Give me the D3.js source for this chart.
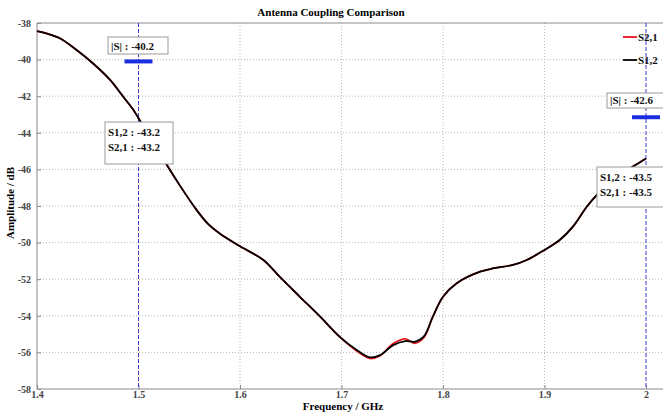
<!DOCTYPE html>
<html>
<head>
<meta charset="utf-8">
<script src="https://cdn.jsdelivr.net/npm/d3@7"></script>
<style>
  body { margin: 0; background: #fff; }
  text { font-family: "Liberation Serif", "DejaVu Serif", serif; font-weight: bold; }
</style>
</head>
<body>
<div class="chart"></div>
<script>
// data
const freq = [1.400, 1.410, 1.423, 1.439, 1.455, 1.472, 1.485, 1.495, 1.500, 1.514, 1.528, 1.541, 1.557, 1.568,
  1.580, 1.600, 1.623, 1.639, 1.659, 1.679, 1.698, 1.715, 1.728, 1.738, 1.751, 1.763, 1.772, 1.781, 1.790,
  1.800, 1.8135, 1.8365, 1.850, 1.869, 1.8825, 1.900, 1.915, 1.928, 1.9416, 1.9514, 1.965, 1.980, 1.990, 2.000];
const s12 = [-38.45, -38.58, -38.85, -39.48, -40.20, -41.11, -42.03, -42.75, -43.20, -44.45, -45.76, -46.90, -48.20, -48.95,
  -49.50, -50.20, -50.95, -51.86, -52.96, -54.05, -55.14, -55.87, -56.27, -56.15, -55.60, -55.38, -55.42, -55.14, -54.05,
  -52.96, -52.22, -51.59, -51.40, -51.22, -50.95, -50.40, -49.86, -49.13, -48.04, -47.40, -46.70, -46.10, -45.75, -45.40];
const s21 = [-38.45, -38.58, -38.85, -39.48, -40.20, -41.11, -42.03, -42.75, -43.20, -44.45, -45.76, -46.90, -48.20, -48.95,
  -49.50, -50.20, -50.95, -51.86, -52.96, -54.05, -55.14, -55.92, -56.33, -56.18, -55.52, -55.26, -55.50, -55.20, -54.05,
  -52.96, -52.22, -51.59, -51.40, -51.22, -50.95, -50.40, -49.86, -49.13, -48.04, -47.40, -46.70, -46.10, -45.75, -45.40];
const xTicks = [1.4, 1.5, 1.6, 1.7, 1.8, 1.9, 2.0];
const yTicks = [-38, -40, -42, -44, -46, -48, -50, -52, -54, -56, -58];
const markers = [
  { f: 1.5, mag: -40.1, magLabel: '|S| : -40.2', tip: ['S1,2 : -43.2', 'S2,1 : -43.2'] },
  { f: 2.0, mag: -43.15, magLabel: '|S| : -42.6', tip: ['S1,2 : -43.5', 'S2,1 : -43.5'] }
];
const series = [
  { name: 'S2,1', values: s21, color: '#e8161b' },
  { name: 'S1,2', values: s12, color: '#000' }
];

const W = 663, H = 412;
const pLeft = 37, pTop = 23, pBottom = 389, pRight = 663;

const svg = d3.select('.chart').append('svg')
  .attr('width', W).attr('height', H);

const x = d3.scaleLinear().domain([1.4, 2.0]).range([pLeft, 646]);
const y = d3.scaleLinear().domain([-58, -38]).range([pBottom, pTop]);

// grid
const grid = svg.append('g').attr('class', 'grid');
grid.selectAll('.hg').data(yTicks.slice(1, -1)).enter().append('line')
  .attr('x1', pLeft).attr('x2', pRight)
  .attr('y1', d => y(d)).attr('y2', d => y(d))
  .style('stroke', '#b8b8b8').style('stroke-dasharray', '1,2').style('stroke-width', 1);
grid.selectAll('.vg').data(xTicks.slice(1, -1)).enter().append('line')
  .attr('x1', d => x(d)).attr('x2', d => x(d))
  .attr('y1', pTop).attr('y2', pBottom)
  .style('stroke', '#b8b8b8').style('stroke-dasharray', '1,2').style('stroke-width', 1);

// frame
svg.append('path')
  .attr('d', `M${pRight},${pTop}H${pLeft}V${pBottom}H${pRight}`)
  .style('fill', 'none').style('stroke', '#8a8a8a').style('stroke-width', 1);

// axes
const yAxis = d3.axisLeft(y).tickValues(yTicks).tickFormat(d => d).tickSizeInner(-4).tickSizeOuter(0).tickPadding(6);
const yAxisDraw = svg.append('g').attr('transform', `translate(${pLeft},0)`).call(yAxis);
const xAxis = d3.axisBottom(x).tickValues(xTicks).tickFormat(d => d3.format('')(d)).tickSizeInner(-4).tickSizeOuter(0).tickPadding(2);
const xAxisDraw = svg.append('g').attr('transform', `translate(0,${pBottom})`).call(xAxis);
[yAxisDraw, xAxisDraw].forEach(g => {
  g.select('.domain').remove();
  g.selectAll('line').style('stroke', '#8a8a8a');
  g.selectAll('text').style('font-family', '"Liberation Serif", serif').style('font-weight', 'bold')
    .style('font-size', '10px').style('fill', '#444');
});

// marker dashed lines
svg.selectAll('.mk').data(markers).enter().append('line')
  .attr('x1', d => x(d.f)).attr('x2', d => x(d.f))
  .attr('y1', pTop).attr('y2', pBottom)
  .style('stroke', '#3a3ad0').style('stroke-width', 1).style('stroke-dasharray', '4,2');

// curves
const lineGen = d3.line().x((d, i) => x(freq[i])).y(d => y(d)).curve(d3.curveCatmullRom);
svg.selectAll('.line-series').data(series).enter().append('path')
  .attr('d', d => lineGen(d.values))
  .style('fill', 'none').style('stroke', d => d.color).style('stroke-width', 1.8);

// |S| bars
svg.selectAll('.bar').data(markers).enter().append('line')
  .attr('x1', d => x(d.f) - 14).attr('x2', d => x(d.f) + 14)
  .attr('y1', d => y(d.mag)).attr('y2', d => y(d.mag))
  .style('stroke', '#1a2ee0').style('stroke-width', 4);

// boxes
const boxes = [
  { x: 108, y: 37, w: 60, h: 17, lines: [markers[0].magLabel] },
  { x: 105, y: 122, w: 68, h: 42, lines: markers[0].tip },
  { x: 607, y: 93, w: 60, h: 15, lines: [markers[1].magLabel] },
  { x: 597, y: 167, w: 70, h: 40, lines: markers[1].tip }
];
boxes.forEach(b => {
  const g = svg.append('g');
  g.append('rect').attr('x', b.x).attr('y', b.y).attr('width', b.w).attr('height', b.h)
    .style('fill', '#fff').style('stroke', '#9a9a9a').style('stroke-width', 1);
  b.lines.forEach((t, i) => {
    g.append('text').attr('x', b.x + 3).attr('y', b.y + (b.lines.length > 1 ? 14 + i * 15 : b.h - 4))
      .style('font-size', '11px').style('fill', '#111').text(t);
  });
});

// legend
const legend = svg.append('g');
series.forEach((s, i) => {
  const ly = 37 + i * 23;
  legend.append('line').attr('x1', 623).attr('x2', 637).attr('y1', ly).attr('y2', ly)
    .style('stroke', s.color).style('stroke-width', 1.8);
  legend.append('text').attr('x', 638).attr('y', ly + 4)
    .style('font-size', '11px').style('fill', '#111').text(s.name);
});

// titles
svg.append('text').attr('x', 331).attr('y', 16).attr('text-anchor', 'middle')
  .style('font-size', '11px').text('Antenna Coupling Comparison');
svg.append('text').attr('x', 343).attr('y', 410).attr('text-anchor', 'middle')
  .style('font-size', '11px').text('Frequency / GHz');
svg.append('text').attr('transform', 'translate(14,203) rotate(-90)').attr('text-anchor', 'middle')
  .style('font-size', '11px').text('Amplitude / dB');
</script>
</body>
</html>
